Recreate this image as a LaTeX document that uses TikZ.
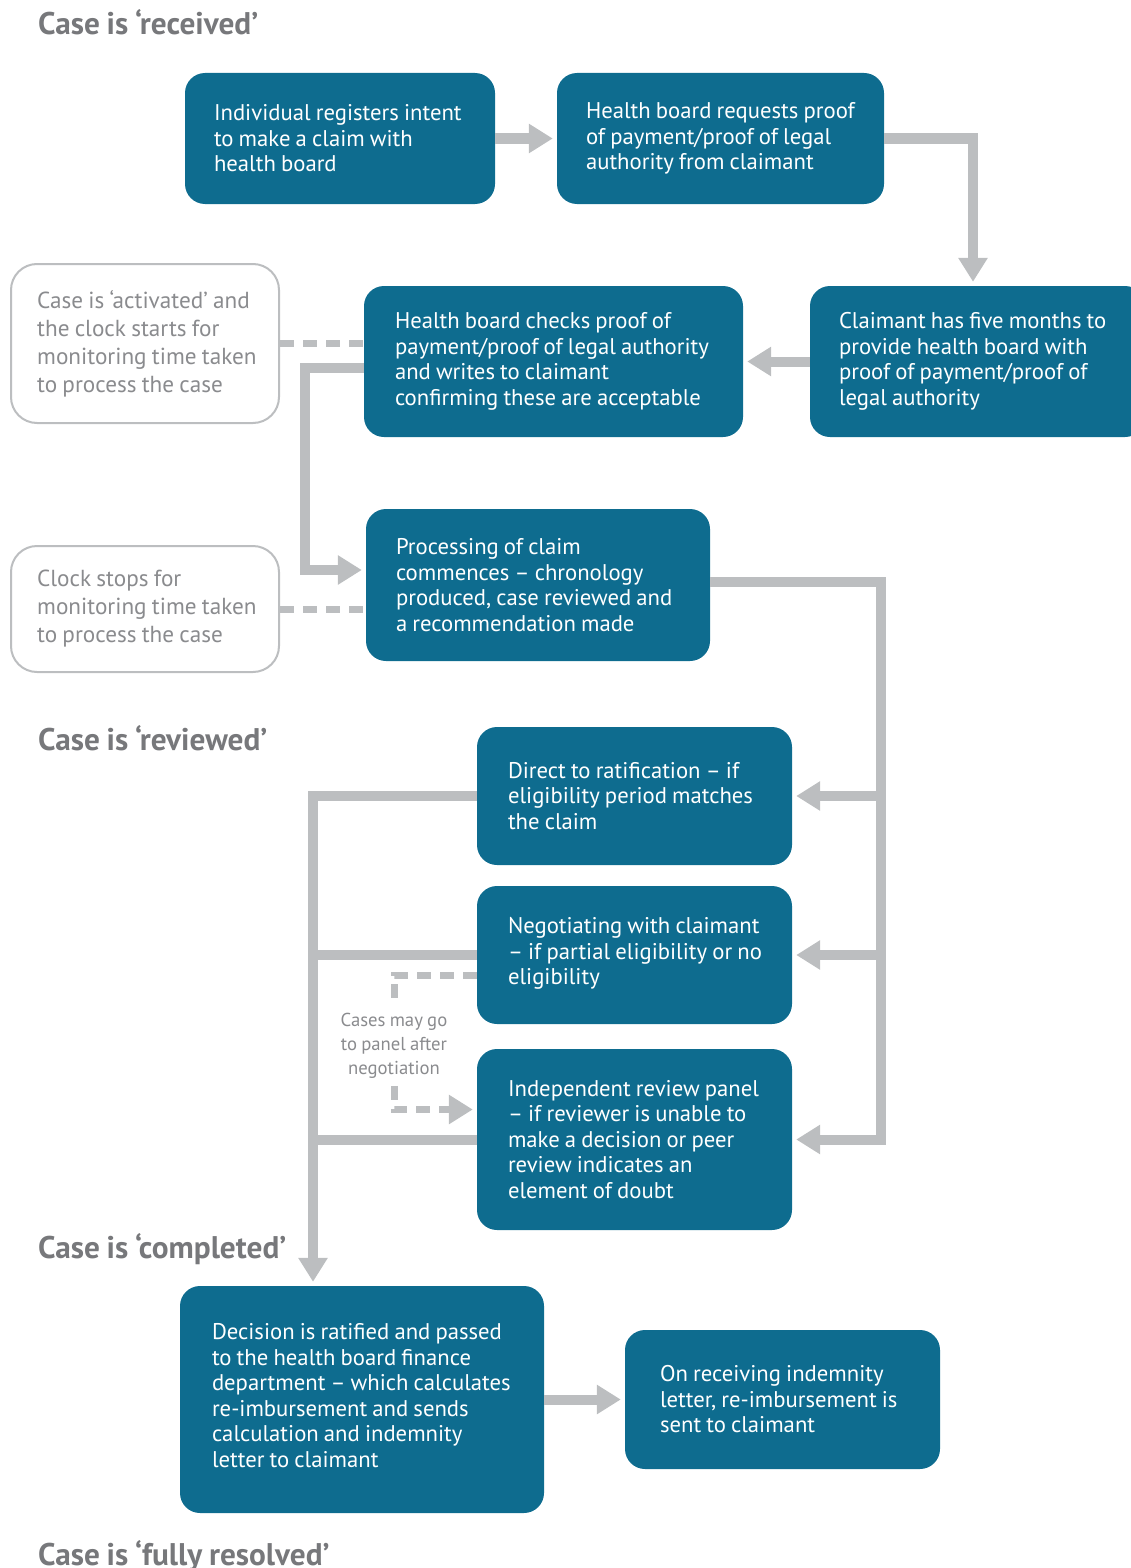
\documentclass[tikz,border=0pt]{standalone}
\usepackage{fontspec}
\setmainfont{PT Sans}[WordSpace=0.85]
\usetikzlibrary{arrows.meta}

\definecolor{boxblue}{HTML}{0E6C8F}
\definecolor{linegrey}{HTML}{BCBEC0}
\definecolor{textgrey}{HTML}{8A8B8E}
\definecolor{headgrey}{HTML}{77787B}

\tikzstyle{s} = [rectangle, rounded corners=20pt, fill=boxblue, inner sep=0pt]
\tikzstyle{st} = [anchor=west, align=left, inner sep=0pt, text=white, font=\fontsize{22.7}{25.5}\selectfont]
\tikzstyle{g} = [rectangle, rounded corners=26pt, draw=linegrey, line width=2pt, fill=white, inner sep=0pt]
\tikzstyle{gt} = [anchor=west, align=left, inner sep=0pt, text=textgrey, font=\fontsize{23.2}{28}\selectfont]
\tikzstyle{hd} = [anchor=base west, inner sep=0pt, text=headgrey, font=\bfseries\fontsize{31.3}{34}\selectfont]
\tikzstyle{conn} = [draw=linegrey, line width=10pt, -{Triangle[width=28pt,length=24pt]}, shorten >=4pt]
\tikzstyle{line} = [draw=linegrey, line width=10pt]
\tikzstyle{dline} = [draw=linegrey, line width=7pt, dash pattern=on 14pt off 9pt]

\begin{document}
\begin{tikzpicture}[x=1pt,y=-1pt]
\useasboundingbox (0,0) rectangle (1131,1568);

\node[hd] (Hrec) at (38,35) {Case is ‘received’};
\node[hd] (Hrev) at (38,750) {Case is ‘reviewed’};
\node[hd] (Hcom) at (38,1258) {Case is ‘completed’};
\node[hd] (Hres) at (38,1565) {Case is ‘fully resolved’};

\node[s, minimum width=310pt, minimum height=131pt] (Reg) at (340,138.5) {};
\node[st] (RegT) at ([xshift=29pt]Reg.west) {Individual registers intent\\to make a claim with\\health board};
\node[s, minimum width=327pt, minimum height=131pt] (Req) at (720.5,138.5) {};
\node[st] (ReqT) at ([xshift=29pt]Req.west) {Health board requests proof\\of payment/proof of legal\\authority from claimant};
\node[s, minimum width=335pt, minimum height=151pt] (Five) at (977.5,361.5) {};
\node[st] (FiveT) at ([xshift=29pt]Five.west) {Claimant has five months to\\provide health board with\\proof of payment/proof of\\legal authority};
\node[s, minimum width=379pt, minimum height=151pt] (Chk) at (553.5,361.5) {};
\node[st] (ChkT) at ([xshift=31pt]Chk.west) {Health board checks proof of\\payment/proof of legal authority\\and writes to claimant\\confirming these are acceptable};
\node[s, minimum width=344pt, minimum height=152pt] (Proc) at (538,585) {};
\node[st] (ProcT) at ([xshift=30pt]Proc.west) {Processing of claim\\commences – chronology\\produced, case reviewed and\\a recommendation made};
\node[s, minimum width=315pt, minimum height=138pt] (Rat) at (634.5,796) {};
\node[st] (RatT) at ([xshift=31pt]Rat.west) {Direct to ratification – if\\eligibility period matches\\the claim};
\node[s, minimum width=315pt, minimum height=138pt] (Neg) at (634.5,955) {};
\node[st] (NegT) at ([xshift=31pt,yshift=1.5pt]Neg.west) {Negotiating with claimant\\– if partial eligibility or no\\eligibility};
\node[s, minimum width=315pt, minimum height=181pt] (Pan) at (634.5,1139.5) {};
\node[st] (PanT) at ([xshift=31pt]Pan.west) {Independent review panel\\– if reviewer is unable to\\make a decision or peer\\review indicates an\\element of doubt};
\node[s, minimum width=364pt, minimum height=227pt] (Dec) at (362,1399.5) {};
\node[st] (DecT) at ([xshift=32pt,yshift=4pt]Dec.west) {Decision is ratified and passed\\to the health board finance\\department – which calculates\\re-imbursement and sends\\calculation and indemnity\\letter to claimant};
\node[s, minimum width=315pt, minimum height=139pt] (Pay) at (782.5,1399.5) {};
\node[st] (PayT) at ([xshift=35pt]Pay.west) {On receiving indemnity\\letter, re-imbursement is\\sent to claimant};

\node[g, minimum width=268pt, minimum height=159pt] (Act) at (145,343.5) {};
\node[gt] (ActT) at ([xshift=27pt]Act.west) {Case is ‘activated’ and\\the clock starts for\\monitoring time taken\\to process the case};
\node[g, minimum width=268pt, minimum height=126pt] (Stop) at (145,609) {};
\node[gt] (StopT) at ([xshift=27pt]Stop.west) {Clock stops for\\monitoring time taken\\to process the case};

\node[text=textgrey, align=center, inner sep=7pt, font=\fontsize{18.7}{24}\selectfont] (Note) at (394,1046) {Cases may go\\to panel after\\negotiation};

\coordinate (fv) at (973,0);
\coordinate (rt) at (881,0);
\coordinate (lt) at (313,0);

% main flow
\draw[conn] (Reg) -- (Req);
\draw[conn] (Req.east) -| (fv |- Five.north);
\draw[conn] (Five) -- (Chk);
\draw[conn] ([yshift=-6pt]Chk.west) -- ++(-59,0) |- ([yshift=15pt]Proc.west);
\draw[conn] ([yshift=3pt]Proc.east) -| (rt |- Pan.east) -- (Pan.east);
\draw[conn] (rt |- Rat.east) -- (Rat.east);
\draw[conn] (rt |- Neg.east) -- (Neg.east);
\draw[conn] (Rat.west) -| (lt |- Dec.north);
\draw[line] (Neg.west) -- (lt |- Neg.west);
\draw[line] (Pan.west) -- (lt |- Pan.west);
\draw[conn] (Dec) -- (Pay);

% clock and panel notes
\draw[dline] (Act.east) -- (Act.east -| Chk.west);
\draw[dline] (Stop.east) -- (Stop.east -| Proc.west);
\draw[dline] ([yshift=-20pt]Neg.west) -| (Note.north);
\draw[dline, -{Triangle[width=28pt,length=24pt]}, shorten >=4pt] (Note.south) |- ([yshift=30pt]Pan.west);

\end{tikzpicture}
\end{document}
